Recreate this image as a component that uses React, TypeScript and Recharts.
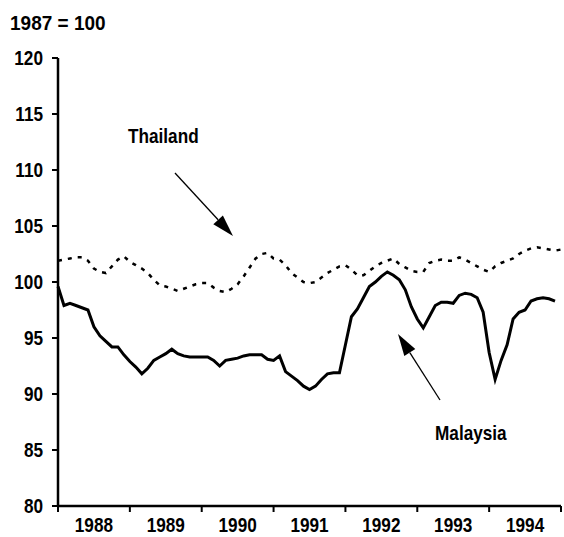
import React from "react"
import { LineChart, Line, XAxis, YAxis } from "recharts"

// monthly index, Jan 1988 = 0 ... end of 1994 = 84
const malaysia = [
  99.6, 97.9, 98.1, 97.9, 97.7, 97.5, 96.0, 95.2, 94.7, 94.2, 94.2, 93.5,
  92.9, 92.4, 91.8, 92.3, 93.0, 93.3, 93.6, 94.0, 93.6, 93.4, 93.3, 93.3,
  93.3, 93.3, 93.0, 92.5, 93.0, 93.1, 93.2, 93.4, 93.5, 93.5, 93.5, 93.1,
  93.0, 93.4, 92.0, 91.6, 91.2, 90.7, 90.4, 90.7, 91.3, 91.8, 91.9, 91.9,
  94.4, 96.9, 97.6, 98.6, 99.6, 100.0, 100.5, 100.9, 100.6, 100.2, 99.3, 97.8,
  96.7, 95.9, 96.9, 97.9, 98.2, 98.2, 98.1, 98.8, 99.0, 98.9, 98.6, 97.3,
  93.7, 91.3, 93.0, 94.4, 96.7, 97.3, 97.5, 98.3, 98.5, 98.6, 98.5, 98.3,
]

const thailand = [
  101.9, 102.0, 102.1, 102.2, 102.2, 101.9, 101.2, 100.9, 100.8, 101.4, 102.0, 102.3,
  101.8, 101.5, 101.2, 100.8, 100.2, 99.7, 99.6, 99.4, 99.2, 99.4, 99.6, 99.8,
  99.9, 99.9, 99.5, 99.2, 99.1, 99.4, 99.8, 100.5, 101.3, 102.1, 102.5, 102.6,
  102.1, 102.0, 101.5, 100.8, 100.4, 100.0, 99.9, 100.0, 100.4, 100.8, 101.1, 101.4,
  101.5, 101.1, 100.6, 100.6, 101.0, 101.4, 101.7, 101.9, 102.1, 101.6, 101.3, 101.0,
  100.9, 100.9, 101.7, 101.9, 102.0, 101.9, 101.9, 102.2, 102.0, 101.7, 101.4, 101.1,
  100.9, 101.4, 101.7, 101.9, 102.1, 102.5, 102.8, 103.0, 103.1, 103.0, 102.9, 102.8,
  102.9,
]

const years = ["1988", "1989", "1990", "1991", "1992", "1993", "1994"]
const yTicks = [80, 85, 90, 95, 100, 105, 110, 115, 120]
const xTicks = Array.from({ length: 15 }, (_, i) => i * 6)

const data = thailand.map((t, i) => ({
  m: i,
  thailand: t,
  malaysia: i < malaysia.length ? malaysia[i] : null,
}))

const FONT = "'Liberation Sans', Arial, sans-serif"

// bold condensed-looking text
function Label({ x, y, anchor = "start", size = 20, squeeze = 0.86, children }: any) {
  return (
    <text
      transform={`translate(${x},${y}) scale(${squeeze},1)`}
      textAnchor={anchor}
      fontFamily={FONT}
      fontWeight="bold"
      fontSize={size}
      fill="#000"
    >
      {children}
    </text>
  )
}

function XTick(props: any) {
  const { x, y, payload } = props
  const v = payload.value as number
  if (v % 12 === 0) {
    return <line x1={x} y1={y - 6} x2={x} y2={y} stroke="#000" strokeWidth={2} />
  }
  return (
    <Label x={x} y={y + 20} anchor="middle">
      {years[Math.floor(v / 12)]}
    </Label>
  )
}

function YTick(props: any) {
  const { x, y, payload } = props
  return (
    <Label x={x} y={y + 7} anchor="end">
      {payload.value}
    </Label>
  )
}

function Arrow({ x1, y1, x2, y2 }: { x1: number; y1: number; x2: number; y2: number }) {
  const dx = x2 - x1
  const dy = y2 - y1
  const len = Math.hypot(dx, dy)
  const ux = dx / len
  const uy = dy / len
  const bx = x2 - ux * 22
  const by = y2 - uy * 22
  const w = 6.5
  return (
    <g>
      <line x1={x1} y1={y1} x2={bx} y2={by} stroke="#000" strokeWidth={1.3} />
      <polygon points={`${x2},${y2} ${bx - uy * w},${by + ux * w} ${bx + uy * w},${by - ux * w}`} fill="#000" />
    </g>
  )
}

export default function App() {
  return (
    <div style={{ position: "absolute", left: 0, top: 0, width: 564, height: 537, background: "#fff" }}>
      <LineChart width={564} height={537} data={data} margin={{ top: 58, right: 3, bottom: 0, left: 0 }}>
        <XAxis
          dataKey="m"
          type="number"
          domain={[0, 84]}
          ticks={xTicks}
          interval={0}
          height={31}
          tickSize={6}
          tickMargin={0}
          tickLine={false}
          axisLine={{ stroke: "#000", strokeWidth: 2.5 }}
          tick={<XTick />}
        />
        <YAxis
          type="number"
          domain={[80, 120]}
          ticks={yTicks}
          interval={0}
          width={58}
          tickSize={6}
          tickMargin={9}
          axisLine={{ stroke: "#000", strokeWidth: 2.5 }}
          tickLine={{ stroke: "#000", strokeWidth: 2 }}
          tick={<YTick />}
        />
        <Line
          dataKey="thailand"
          stroke="#000"
          strokeWidth={2.5}
          strokeDasharray="4 6"
          dot={false}
          type="linear"
          isAnimationActive={false}
        />
        <Line
          dataKey="malaysia"
          stroke="#000"
          strokeWidth={3}
          dot={false}
          type="linear"
          isAnimationActive={false}
        />
      </LineChart>
      <svg width={564} height={537} style={{ position: "absolute", left: 0, top: 0, pointerEvents: "none" }}>
        <Label x={10} y={30} squeeze={0.95}>1987 = 100</Label>
        <Label x={128} y={143}>Thailand</Label>
        <Label x={435} y={440}>Malaysia</Label>
        <Arrow x1={175} y1={173} x2={233} y2={236} />
        <Arrow x1={440} y1={400} x2={398} y2={334} />
      </svg>
    </div>
  )
}
